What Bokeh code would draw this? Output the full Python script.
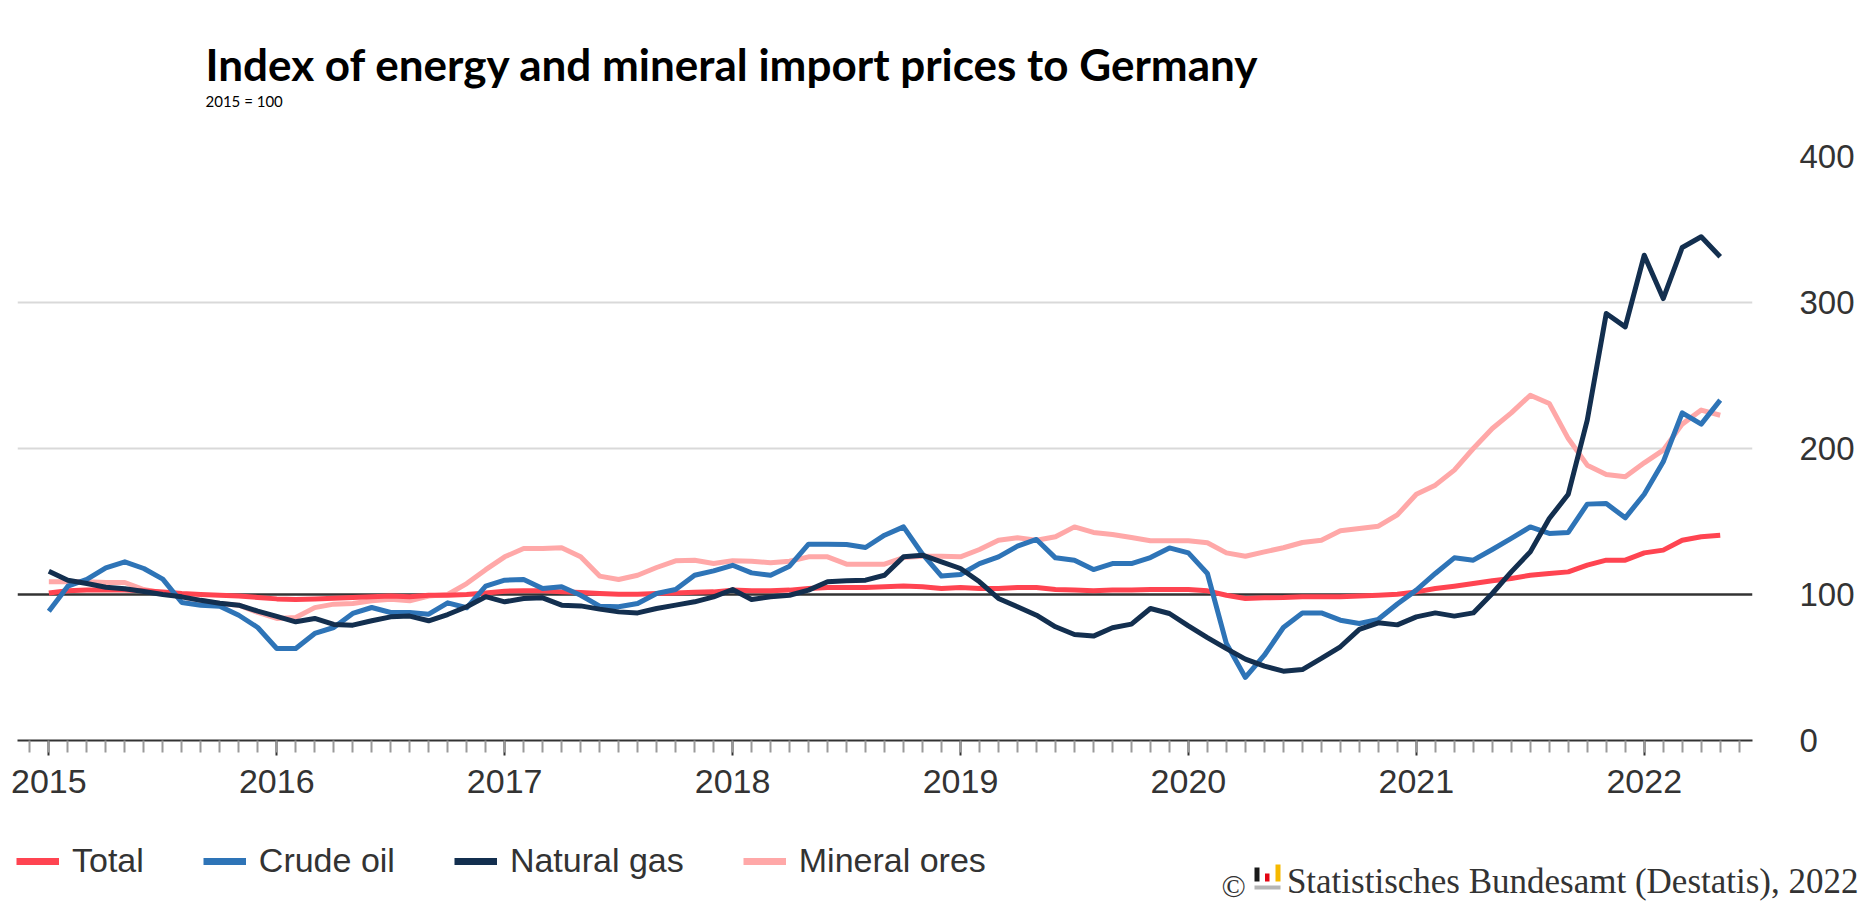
from bokeh.plotting import figure
from bokeh.models import (Range1d, FixedTicker, Span, Legend, LegendItem, Label)
from bokeh.embed import file_html
from bokeh.resources import INLINE

# ---------------- data (monthly, Jan 2015 .. May 2022, 2015 = 100) ----------------
years = ["2015", "2016", "2017", "2018", "2019", "2020", "2021", "2022"]

total = [101, 102.5, 103, 103, 103, 102.5, 101.8, 100.7, 100, 99.5, 99, 98,
         97, 96.6, 97, 97.5, 98, 98.4, 98.9, 98.4, 99.5, 99.5, 100, 101,
         102.3, 102.5, 102.5, 101.8, 101.4, 100.7, 100.2, 100.2, 100.7, 101.1, 101.6, 101.8,
         103, 102.5, 102.5, 103, 104.1, 104.8, 104.8, 104.8, 105.3, 105.9, 105.3, 104.1,
         104.8, 104.1, 104.1, 104.8, 104.8, 103.4, 103, 102.5, 103, 103, 103.4, 103.4,
         103.4, 102.5, 99.5, 97.3, 97.7, 97.9, 98.4, 98.4, 98.4, 98.9, 99.5, 100.2,
         101.8, 104.1, 105.7, 107.5, 109.4, 111, 113.2, 114.4, 115.5, 120.1, 123.5, 123.5,
         128.5, 130.4, 137.2, 139.5, 140.6]

crude_oil = [88.6, 105.7, 110.3, 118.3, 122.4, 117.8, 110.5, 94.5, 92.7, 92, 85.8, 77.4,
             63, 63, 73.3, 77.4, 87, 91.1, 87.7, 87.7, 86.5, 94.3, 90.9, 105.7,
             109.8, 110.3, 104.1, 105.3, 99.5, 92, 91.6, 93.8, 100.7, 103.4, 113.2, 116.2,
             120, 114.8, 113.2, 119.4, 134.5, 134.5, 134.2, 132.2, 140.6, 146.3, 127.6, 112.6,
             113.7, 121.2, 125.8, 133.1, 137.7, 125.1, 123.5, 117.1, 121.2, 121.2, 125.3, 131.9,
             128.5, 114.4, 66.4, 43.2, 58.4, 77.4, 87.4, 87.4, 82.4, 80.1, 83, 93.5,
             103, 114.4, 125.1, 123.5, 130.8, 138.4, 146.3, 141.8, 142.5, 161.9, 162.3, 152.5,
             168.7, 190.9, 224.4, 216.7, 233.1]

natural_gas = [116, 109.8, 107.5, 105, 104, 102, 100, 98.4, 96, 94, 92.7, 88.6,
               85, 81.3, 83.6, 79.5, 79, 82, 84.7, 85.2, 82, 86.3, 91.6, 98.5,
               95, 97.3, 97.7, 92.7, 92.2, 90, 88.1, 87.4, 90.4, 92.7, 95, 98.4,
               103.4, 96.6, 98.4, 99.5, 103, 108.7, 109.4, 109.8, 113.2, 125.8, 126.9, 122.4,
               117.8, 108.7, 97.3, 91.6, 85.8, 77.9, 72.6, 71.5, 77.2, 79.7, 90.4, 87,
               78.5, 70.5, 62.9, 55.7, 50.9, 47.5, 48.6, 56.2, 64.2, 76.1, 80.6, 79.2,
               84.7, 87.4, 85.2, 87.4, 100.7, 115.5, 129.2, 152, 168.7, 219.4, 292.5, 283.3,
               332.4, 302.7, 337.7, 345, 331.3]

mineral_ores = [108.7, 108.7, 108.7, 108.2, 108.2, 103.4, 101, 98.4, 96, 93.8, 92.7, 87.7,
                83.6, 84.2, 91, 93.4, 93.8, 95.7, 96.8, 95.7, 99, 100, 107.5, 117,
                125.8, 131.5, 131.5, 132, 125.8, 112.6, 110.3, 113.2, 118.5, 123.1, 123.5, 121.2,
                123.1, 122.8, 121.7, 122.8, 125.8, 125.8, 120.8, 120.8, 120.8, 125.3, 126.2, 126.2,
                125.8, 130.8, 137.2, 138.8, 137.2, 139.5, 146.3, 142.5, 141.1, 139, 136.8, 136.8,
                136.8, 135.4, 128.5, 126.2, 129.2, 132, 135.6, 137.2, 143.6, 145.2, 146.8, 154.5,
                168.7, 174.9, 185.2, 200, 213.7, 224.4, 236.5, 230.8, 206.8, 188.6, 182.2, 180.6,
                190.2, 198.9, 216.7, 226.3, 222.8]

series_names = ["Total", "Crude oil", "Natural gas", "Mineral ores"]
series_colors = ["#ff4451", "#2e74b7", "#132f4f", "#ffa8a8"]
y_ticks = [0, 100, 200, 300, 400]

months = list(range(len(total)))  # month index, 0 = Jan 2015

W = 1870


def blank_fig(h):
    f = figure(width=W, height=h, x_range=Range1d(0, W), y_range=Range1d(0, h),
               min_border_left=0, min_border_right=0, min_border_top=0, min_border_bottom=0,
               x_axis_location=None, y_axis_location=None,
               output_backend="svg", toolbar_location=None, title=None)
    f.outline_line_color = None
    f.xgrid.visible = False
    f.ygrid.visible = False
    return f


# ---------------- header ----------------
top = blank_fig(136)
top.add_layout(Label(x=205, y=73, text="Index of energy and mineral import prices to Germany",
                     text_font="Lato", text_font_style="bold", text_font_size="44px",
                     text_color="#000000", text_baseline="alphabetic"))
top.add_layout(Label(x=205, y=36, text="2015 = 100", text_font="Lato",
                     text_font_size="15px", text_color="#000000",
                     text_baseline="alphabetic"))

# ---------------- main chart ----------------
p = figure(frame_width=1735, frame_height=584,
           min_border_left=17, min_border_right=118, min_border_top=20, min_border_bottom=70,
           x_range=Range1d(-1.65, 89.7), y_range=Range1d(0, 400),
           y_axis_location="right", x_axis_location="below",
           output_backend="svg", toolbar_location=None, title=None)
p.outline_line_color = None

xa = p.xaxis[0]
xa.ticker = FixedTicker(ticks=[12 * k for k in range(len(years))],
                        minor_ticks=list(range(-1, 90)))
xa.major_label_overrides = {12 * k: y for k, y in enumerate(years)}
xa.axis_line_color = "#333333"
xa.axis_line_width = 2
xa.major_tick_line_color = "#333333"
xa.major_tick_line_width = 2
xa.major_tick_in = 0
xa.major_tick_out = 15
xa.minor_tick_line_color = "#9a9a9a"
xa.minor_tick_line_width = 2
xa.minor_tick_in = 0
xa.minor_tick_out = 12
xa.major_label_standoff = 14
xa.major_label_text_font = "Liberation Sans"
xa.major_label_text_font_size = "34px"
xa.major_label_text_color = "#333333"
p.xgrid.visible = False

ya = p.yaxis[0]
ya.ticker = FixedTicker(ticks=y_ticks)
ya.axis_line_color = None
ya.major_tick_line_color = None
ya.minor_tick_line_color = None
ya.major_label_standoff = 41
ya.major_label_text_font = "Liberation Sans"
ya.major_label_text_font_size = "33px"
ya.major_label_text_color = "#333333"
p.ygrid.ticker = FixedTicker(ticks=[t for t in y_ticks if t > 100])
p.ygrid.grid_line_color = "#d9d9d9"
p.ygrid.grid_line_width = 2

p.add_layout(Span(location=100, dimension="width", line_color="#333333",
                  line_width=2.5, level="underlay"))

data = {"Total": total, "Crude oil": crude_oil,
        "Natural gas": natural_gas, "Mineral ores": mineral_ores}
colors = dict(zip(series_names, series_colors))
for name in ["Mineral ores", "Total", "Crude oil", "Natural gas"]:
    p.line(months, data[name], line_width=5, line_color=colors[name], line_join="round")

# ---------------- legend + source line ----------------
bottom = blank_fig(102)
items = []
for name in series_names:
    r = bottom.line(x=[-20, -10], y=[-20, -20], line_width=7, line_color=colors[name])
    items.append(LegendItem(label=name, renderers=[r]))
legend = Legend(items=items, location=(16, 32), orientation="horizontal",
                glyph_width=43, glyph_height=20, label_standoff=13, spacing=59,
                padding=0, margin=0, border_line_color=None, background_fill_alpha=0,
                label_text_font="Liberation Sans", label_text_font_size="34px",
                label_text_color="#333333")
bottom.add_layout(legend)

bottom.add_layout(Label(x=1858, y=31, text="Statistisches Bundesamt (Destatis), 2022",
                        text_font="Liberation Serif", text_font_size="35px",
                        text_color="#333333", text_align="right",
                        text_baseline="alphabetic"))
bottom.add_layout(Label(x=1221, y=27, text="©", text_font="Liberation Serif",
                        text_font_size="32px", text_color="#333333",
                        text_baseline="alphabetic"))
# small logo
logo_left = [1254, 1264.5, 1275, 1254]
logo_right = [1259, 1269, 1280, 1280]
logo_bottom = [31, 31, 31, 23]
logo_top = [45, 39, 48, 27]
logo_color = ["#1a1a1a", "#e30613", "#f6b900", "#b5b5b5"]
bottom.quad(left=logo_left, right=logo_right, bottom=logo_bottom, top=logo_top,
            fill_color=logo_color, line_color=None)

open("out.html", "w").write(file_html([top, p, bottom], INLINE))
